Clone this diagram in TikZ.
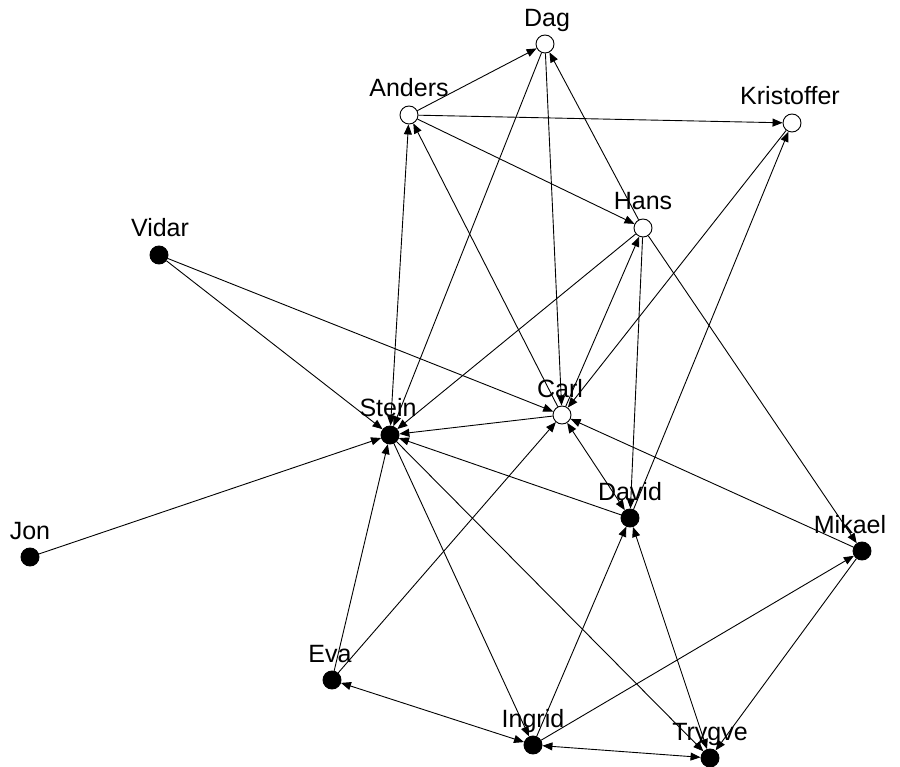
\documentclass[tikz,border=0pt]{standalone}
\usepackage{fontspec}
\setmainfont{Liberation Sans}
\usetikzlibrary{arrows.meta}
\begin{document}
\begin{tikzpicture}[x=1pt,y=-1pt,
  actor/.style={circle,draw=black,line width=0.9pt,minimum size=18pt,inner sep=0pt},
  hollow/.style={actor,fill=white},
  solid/.style={actor,fill=black},
  lab/.style={anchor=base,inner sep=0pt,font=\fontsize{25}{25}\selectfont},
  tie/.style={line width=0.9pt,-{Triangle[length=10pt,width=8pt]}},
  mutual/.style={line width=0.9pt,{Triangle[length=10pt,width=8pt]}-{Triangle[length=10pt,width=8pt]}}]
\useasboundingbox (0,0) rectangle (900,767);

% actors
\node[hollow] (dag) at (545,44) {};
\node[hollow] (anders) at (409,115) {};
\node[hollow] (kristoffer) at (792,123) {};
\node[hollow] (hans) at (643,228) {};
\node[solid] (vidar) at (159,255) {};
\node[hollow] (carl) at (562,415) {};
\node[solid] (stein) at (390,435) {};
\node[solid] (david) at (630,518) {};
\node[solid] (jon) at (30,557) {};
\node[solid] (mikael) at (862,551) {};
\node[solid] (eva) at (332,680) {};
\node[solid] (ingrid) at (533,745) {};
\node[solid] (trygve) at (710,758) {};

% names
\node[lab] (ldag) at (547,27) {Dag};
\node[lab] (landers) at (409,97) {Anders};
\node[lab] (lkristoffer) at (790,105) {Kristoffer};
\node[lab] (lhans) at (643,210) {Hans};
\node[lab] (lvidar) at (160,237) {Vidar};
\node[lab] (lcarl) at (560,397) {Carl};
\node[lab] (lstein) at (388,417) {Stein};
\node[lab] (ldavid) at (630,500) {David};
\node[lab] (ljon) at (30,539) {Jon};
\node[lab] (lmikael) at (850,533) {Mikael};
\node[lab] (leva) at (330,662) {Eva};
\node[lab] (lingrid) at (533,727) {Ingrid};
\node[lab] (ltrygve) at (710,740) {Trygve};

% ties
\draw[tie] (anders) -- (dag);
\draw[tie] (anders) -- (kristoffer);
\draw[tie] (anders) -- (hans);
\draw[tie] (hans) -- (dag);
\draw[tie] (dag) -- (stein);
\draw[tie] (dag) -- (carl);
\draw[mutual] (stein) -- (anders);
\draw[tie] (carl) -- (anders);
\draw[tie] (hans) -- (stein);
\draw[tie] (carl) -- (hans);
\draw[tie] (hans) -- (david);
\draw[tie] (hans) -- (mikael);
\draw[tie] (kristoffer) -- (carl);
\draw[tie] (david) -- (kristoffer);
\draw[tie] (vidar) -- (stein);
\draw[tie] (vidar) -- (carl);
\draw[tie] (jon) -- (stein);
\draw[tie] (carl) -- (stein);
\draw[tie] (david) -- (stein);
\draw[mutual] (carl) -- (david);
\draw[tie] (mikael) -- (carl);
\draw[tie] (eva) -- (stein);
\draw[tie] (eva) -- (carl);
\draw[mutual] (eva) -- (ingrid);
\draw[tie] (stein) -- (ingrid);
\draw[tie] (stein) -- (trygve);
\draw[tie] (ingrid) -- (david);
\draw[tie] (ingrid) -- (mikael);
\draw[mutual] (ingrid) -- (trygve);
\draw[mutual] (david) -- (trygve);
\draw[tie] (mikael) -- (trygve);
\end{tikzpicture}
\end{document}
